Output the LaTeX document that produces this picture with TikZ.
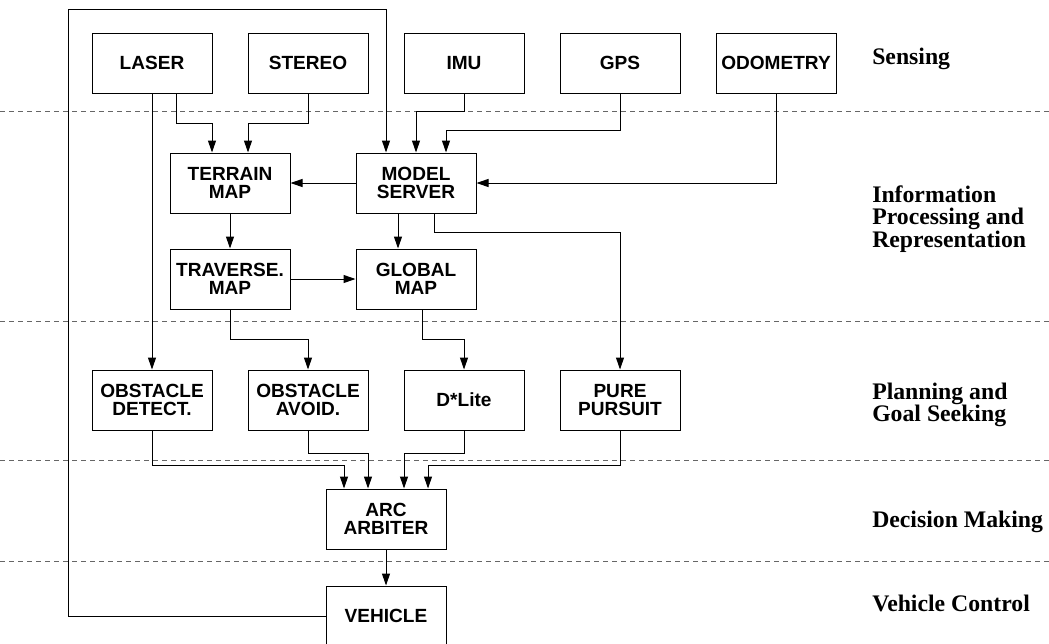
\documentclass[tikz,border=0pt]{standalone}
\usepackage{fontspec}
\setmainfont{Liberation Serif}
\newfontfamily\boxfont{Liberation Sans}
\usetikzlibrary{arrows.meta}
\begin{document}
\begin{tikzpicture}[x=0.75pt,y=-0.75pt,
  blk/.style={draw=black,line width=0.75pt,minimum width=90pt,minimum height=45pt,inner sep=0pt,align=center,
    font=\boxfont\bfseries\fontsize{14.3}{13.5}\selectfont},
  arr/.style={line width=0.75pt,-{Triangle[length=9pt,width=6pt]}},
  sep/.style={draw=black!60,line width=0.75pt,dash pattern=on 3.75pt off 3pt},
  lay/.style={font=\bfseries\fontsize{17.8}{17}\selectfont,inner sep=0pt,align=left}]
\useasboundingbox (0,0) rectangle (1049,643);
% layer separators
\draw[sep] (0,111) -- (1049,111);
\draw[sep] (0,321) -- (1049,321);
\draw[sep] (0,460) -- (1049,460);
\draw[sep] (0,561) -- (1049,561);
% boxes
\node[blk] (laser) at (152,63) {LASER};
\node[blk] (stereo) at (308,63) {STEREO};
\node[blk] (imu) at (464,63) {IMU};
\node[blk] (gps) at (620,63) {GPS};
\node[blk] (odo) at (776,63) {ODOMETRY};
\node[blk] (terrain) at (230,183) {TERRAIN\\MAP};
\node[blk] (model) at (416,183) {MODEL\\SERVER};
\node[blk] (traverse) at (230,279) {TRAVERSE.\\MAP};
\node[blk] (global) at (416,279) {GLOBAL\\MAP};
\node[blk] (detect) at (152,400) {OBSTACLE\\DETECT.};
\node[blk] (avoid) at (308,400) {OBSTACLE\\AVOID.};
\node[blk] (dlite) at (464,400) {D*Lite};
\node[blk] (pursuit) at (620,400) {PURE\\PURSUIT};
\node[blk] (arc) at (386,519) {ARC\\ARBITER};
\node[blk] (vehicle) at (386,616) {VEHICLE};
% layer labels
\node[lay,anchor=base west] (l1) at (872,64) {Sensing};
\node[lay,anchor=west] (l2) at (872,219) {Information\\Processing and\\Representation};
\node[lay,anchor=west] (l3) at (872,405) {Planning and\\Goal Seeking};
\node[lay,anchor=base west] (l4) at (872,527) {Decision Making};
\node[lay,anchor=base west] (l5) at (872,611) {Vehicle Control};
% connectors
\draw[arr] ([xshift=18pt]laser.south) -- ++(0,30) -| ([xshift=-13.5pt]terrain.north);
\draw[arr] (stereo.south) -- ++(0,30) -| ([xshift=13.5pt]terrain.north);
\draw[arr] (laser.south) -- (detect.north);
\draw[arr] (imu.south) -- ++(0,18) -| (model.north);
\draw[arr] (gps.south) -- ++(0,37) -| ([xshift=22.5pt]model.north);
\draw[arr] (odo.south) |- (model.east);
\draw[arr] (model.west) -- (terrain.east);
\draw[arr] (terrain.south) -- (traverse.north);
\draw[arr] ([xshift=-13.5pt]model.south) -- ([xshift=-13.5pt]global.north);
\draw[arr] ([xshift=13.5pt]model.south) -- ++(0,19) -| (pursuit.north);
\draw[arr] (traverse.east) -- (global.west);
\draw[arr] (traverse.south) -- ++(0,30) -| (avoid.north);
\draw[arr] ([xshift=4.5pt]global.south) -- ++(0,30) -| (dlite.north);
\draw[arr] (detect.south) -- ++(0,35) -| ([xshift=-31.5pt]arc.north);
\draw[arr] (avoid.south) -- ++(0,23) -| ([xshift=-13.5pt]arc.north);
\draw[arr] (dlite.south) -- ++(0,23) -| ([xshift=13.5pt]arc.north);
\draw[arr] (pursuit.south) -- ++(0,35) -| ([xshift=31.5pt]arc.north);
\draw[arr] (arc.south) -- (vehicle.north);
\coordinate (fb) at (68,9);
\draw[arr] (vehicle.west) -| (fb) -| ([xshift=-22.5pt]model.north);
\end{tikzpicture}
\end{document}
